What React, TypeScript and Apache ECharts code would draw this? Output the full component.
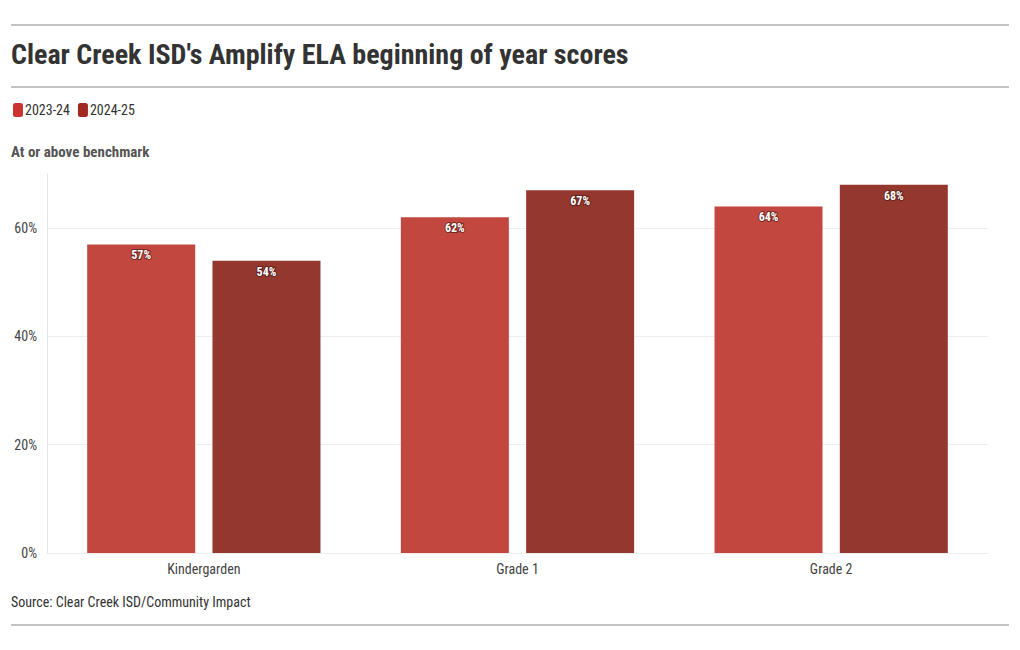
import React, { useEffect, useRef } from "react";
import * as echarts from "echarts";

const categories = ["Kindergarden", "Grade 1", "Grade 2"];
const series2324 = [57, 62, 64];
const series2425 = [54, 67, 68];
const seriesNames = ["2023-24", "2024-25"];
const yTicks = [0, 20, 40, 60];

const FONT = "'Roboto Condensed', 'Liberation Sans Narrow', 'Arial Narrow', Roboto, sans-serif";

export default function App() {
  const ref = useRef<HTMLDivElement>(null);
  useEffect(() => {
    const chart = echarts.init(ref.current!, null, { renderer: "svg" });
    const label = {
      show: true,
      position: "insideTop",
      distance: 5,
      color: "#fff",
      fontWeight: "bold",
      fontSize: 12,
      fontFamily: FONT,
      textBorderColor: "rgba(60,20,15,0.6)",
      textBorderWidth: 2,
      formatter: (p: any) => p.value + "%",
    };
    chart.setOption({
      animation: false,
      textStyle: { fontFamily: FONT },
      graphic: [
        { type: "line", shape: { x1: 11, y1: 25, x2: 1009, y2: 25 }, style: { stroke: "#888", lineWidth: 1 } },
        { type: "line", shape: { x1: 11, y1: 87, x2: 1009, y2: 87 }, style: { stroke: "#888", lineWidth: 1 } },
        { type: "line", shape: { x1: 11, y1: 625, x2: 1009, y2: 625 }, style: { stroke: "#888", lineWidth: 1 } },
        {
          type: "text", left: 11, top: 40,
          style: { text: "Clear Creek ISD's Amplify ELA beginning of year scores", fontSize: 28, fontWeight: "bold", fill: "#333", fontFamily: FONT },
        },
        {
          type: "text", left: 11, top: 144,
          style: { text: "At or above benchmark", fontSize: 15, fontWeight: "bold", fill: "#555", fontFamily: FONT },
        },
        {
          type: "text", left: 11, top: 595,
          style: { text: "Source: Clear Creek ISD/Community Impact", fontSize: 14, fill: "#333", fontFamily: FONT },
        },
      ],
      legend: {
        left: 8, top: 98,
        itemWidth: 10, itemHeight: 14, itemGap: 8,
        icon: "roundRect",
        textStyle: { fontSize: 14, color: "#333", fontFamily: FONT, padding: [0, 0, 0, -3] },
        data: [
          { name: seriesNames[0], itemStyle: { color: "#cc3333" } },
          { name: seriesNames[1], itemStyle: { color: "#a02a22" } },
        ],
      },
      grid: { left: 47, right: 32, top: 174, bottom: 97 },
      xAxis: {
        type: "category",
        data: categories,
        axisLine: { show: true, lineStyle: { color: "#eee" } },
        axisTick: { show: false },
        axisLabel: { color: "#444", fontSize: 14, margin: 9, fontFamily: FONT },
      },
      yAxis: {
        type: "value",
        min: 0, max: 70, interval: 20,
        axisLine: { show: true, lineStyle: { color: "#e6e6e6" } },
        axisTick: { show: false },
        splitLine: { lineStyle: { color: ["#eee", "#eee", "#eee", "#eee", "rgba(0,0,0,0)"] } },
        axisLabel: {
          color: "#444", fontSize: 14, margin: 10, fontFamily: FONT,
          formatter: (v: number) => (yTicks.includes(v) ? v + "%" : ""),
        },
      },
      series: [
        { name: seriesNames[0], type: "bar", data: series2324, barWidth: 108, barGap: "16%", itemStyle: { color: "#c2473f" }, label },
        { name: seriesNames[1], type: "bar", data: series2425, barWidth: 108, barGap: "16%", itemStyle: { color: "#94372f" }, label },
      ],
    });
    return () => chart.dispose();
  }, []);
  return <div ref={ref} style={{ position: "fixed", left: 0, top: 0, width: 1020, height: 650, background: "#fff" }} />;
}
